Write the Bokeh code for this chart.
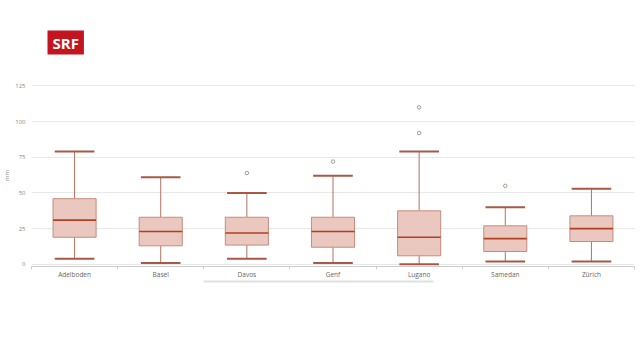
from bokeh.plotting import figure
from bokeh.models import Range1d, FixedTicker, ColumnDataSource, Title, LinearAxis
from bokeh.embed import file_html
from bokeh.resources import INLINE

# ---- data (monthly precipitation, mm) ----
stations = ["Adelboden", "Basel", "Davos", "Genf", "Lugano", "Samedan", "Zürich"]
low = [4, 1, 4, 1, 0, 2, 2]
q1 = [19, 13, 13.5, 12, 6, 9, 16]
median = [31, 23, 22, 23, 19, 18, 25]
q3 = [46, 33, 33, 33, 37.5, 27, 34]
high = [79, 61, 50, 62, 79, 40, 53]
outlier_station = ["Davos", "Genf", "Lugano", "Lugano", "Samedan"]
outlier_value = [64, 72, 92, 110, 55]
y_ticks = [0, 25, 50, 75, 100, 125]

FONT = "Open Sans"
xs = [i + 0.5 for i in range(len(stations))]
half_box = 0.25
half_cap = 0.23

src = ColumnDataSource(dict(
    x=xs, low=low, q1=q1, median=median, q3=q3, high=high,
    bl=[x - half_box for x in xs], br=[x + half_box for x in xs],
    cl=[x - half_cap for x in xs], cr=[x + half_cap for x in xs],
))
out_src = ColumnDataSource(dict(
    x=[stations.index(s) + 0.5 for s in outlier_station], y=outlier_value))

p = figure(width=636, height=352, x_range=Range1d(0, len(stations)),
           y_range=Range1d(-1.5, 126), output_backend="svg", toolbar_location=None,
           min_border_left=29, min_border_right=2, min_border_top=84, min_border_bottom=86)
p.outline_line_color = None
p.background_fill_color = "white"
p.border_fill_color = "white"

# small spacer panel next to the frame, then the SRF logo as a title above it
p.add_layout(Title(text=" ", text_font_size="1px", standoff=0), "above")
p.add_layout(Title(text="SRF", align="left", offset=16, standoff=54,
                   text_font=FONT, text_font_style="bold", text_font_size="15px",
                   text_color="white", background_fill_color="#c3141f",
                   padding=dict(left=5, right=5, top=2, bottom=2)), "above")

# grid
p.xgrid.grid_line_color = None
p.ygrid.grid_line_color = "#e8e8e8"
p.ygrid.grid_line_width = 1

# y axis
p.yaxis.ticker = FixedTicker(ticks=y_ticks)
p.yaxis.axis_line_color = None
p.yaxis.major_tick_line_color = None
p.yaxis.minor_tick_line_color = None
p.yaxis.major_tick_out = 0
p.yaxis.minor_tick_out = 0
p.yaxis.major_label_text_font = FONT
p.yaxis.major_label_text_font_size = "6px"
p.yaxis.major_label_text_color = "#888888"
p.yaxis.major_label_standoff = 6
p.yaxis.axis_label = "mm"
p.yaxis.axis_label_text_font = FONT
p.yaxis.axis_label_text_font_size = "6px"
p.yaxis.axis_label_text_font_style = "normal"
p.yaxis.axis_label_text_color = "#888888"
p.yaxis.axis_label_standoff = 1

# x axis: labels at centers, separator ticks at boundaries
p.xaxis.ticker = FixedTicker(ticks=xs, minor_ticks=list(range(len(stations) + 1)))
p.xaxis.major_label_overrides = {x: s for x, s in zip(xs, stations)}
p.xaxis.major_tick_line_color = None
p.xaxis.major_tick_in = 0
p.xaxis.major_tick_out = 0
p.xaxis.minor_tick_line_color = "#cccccc"
p.xaxis.minor_tick_in = 0
p.xaxis.minor_tick_out = 3
p.xaxis.axis_line_color = "#cccccc"
p.xaxis.major_label_text_font = FONT
p.xaxis.major_label_text_font_size = "6.5px"
p.xaxis.major_label_text_color = "#666666"
p.xaxis.major_label_standoff = 0

# scroll-bar like line below the category axis
bar_axis = LinearAxis(bounds=(2.0, 4.67), ticker=FixedTicker(ticks=[]),
                      axis_line_color="#e0e0e0", axis_line_width=2,
                      major_tick_line_color=None, minor_tick_line_color=None,
                      major_tick_out=0, minor_tick_out=0,
                      major_label_text_font_size="0px")
p.add_layout(bar_axis, "below")

# whisker stems
p.segment(x0="x", x1="x", y0="q3", y1="high", source=src, line_color="#b5705f", line_width=1)
p.segment(x0="x", x1="x", y0="low", y1="q1", source=src, line_color="#b5705f", line_width=1)
# boxes
p.vbar(x="x", top="q3", bottom="q1", width=2 * half_box, source=src,
       fill_color="#ebc8bf", line_color="#c98a7b", line_width=1)
# medians
p.segment(x0="bl", x1="br", y0="median", y1="median", source=src,
          line_color="#b0401f", line_width=1.6)
# caps
p.segment(x0="cl", x1="cr", y0="high", y1="high", source=src, line_color="#a95846", line_width=2)
p.segment(x0="cl", x1="cr", y0="low", y1="low", source=src, line_color="#a95846", line_width=2)
# outliers
p.scatter(x="x", y="y", source=out_src, marker="circle", size=3.5,
          fill_color="white", line_color="#a89a8e", line_width=1)

open("out.html", "w").write(file_html(p, INLINE))
